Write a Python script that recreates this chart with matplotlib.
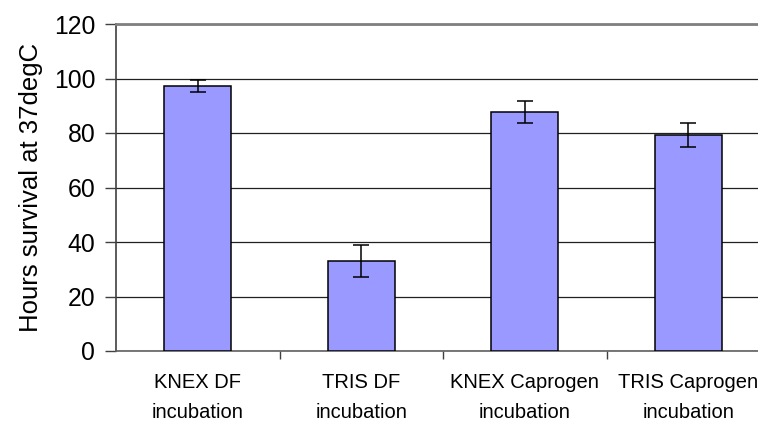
import numpy as np
import matplotlib.pyplot as plt

plt.rcParams['font.family'] = ['Liberation Sans', 'DejaVu Sans']

categories = ['KNEX DF\nincubation', 'TRIS DF\nincubation',
              'KNEX Caprogen\nincubation', 'TRIS Caprogen\nincubation']
hours = [97.3, 33.0, 87.7, 79.2]
errors = [2.2, 6.0, 4.2, 4.4]
y_ticks = [0, 20, 40, 60, 80, 100, 120]

fig = plt.figure(figsize=(7.58, 4.24), dpi=100)
ax = fig.add_axes([116 / 758, 73 / 424, 654 / 758, 327 / 424])

x = np.arange(len(categories))
ax.bar(x, hours, width=0.41, color='#9999FF', edgecolor='black',
       linewidth=1.1, zorder=3)
ax.errorbar(x, hours, yerr=errors, fmt='none', ecolor='black',
            elinewidth=1.1, capsize=5.5, capthick=1.1, zorder=4)

ax.set_xlim(-0.5, 3.5)
ax.set_ylim(0, 120)
ax.set_yticks(y_ticks)
ax.set_xticks(x)
ax.set_xticklabels(categories, fontsize=14.5, linespacing=1.75)
ax.set_xticks([0.5, 1.5, 2.5], minor=True)
ax.tick_params(axis='x', which='major', length=0, pad=16)
ax.tick_params(axis='x', which='minor', length=6, width=1, color='#404040')
ax.tick_params(axis='y', length=8, width=1, color='#404040',
               labelsize=17.8, pad=7)

ax.yaxis.grid(True, color='#202020', linewidth=0.9, zorder=0)
ax.set_axisbelow(True)

ax.spines['right'].set_visible(False)
ax.spines['top'].set_color('#808080')
ax.spines['top'].set_linewidth(2)
ax.spines['left'].set_color('#404040')
ax.spines['left'].set_linewidth(1.2)
ax.spines['bottom'].set_color('#606060')
ax.spines['bottom'].set_linewidth(1.2)

ax.set_ylabel('Hours survival at 37degC', fontsize=18.5, labelpad=8)

fig.savefig('out.png', dpi=100)
